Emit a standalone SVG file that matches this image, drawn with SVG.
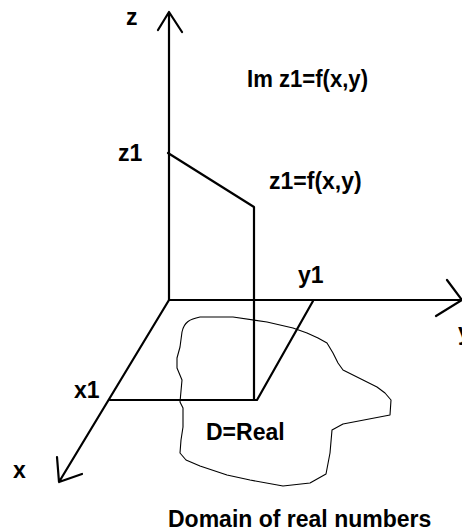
<svg xmlns="http://www.w3.org/2000/svg" width="462" height="531" viewBox="0 0 462 531">
<style>
.ax{stroke:#000;stroke-width:2.2;fill:none;stroke-linecap:round;stroke-linejoin:round}
.th{stroke:#000;stroke-width:1.1;fill:none;stroke-linejoin:round}
.lb{font-family:"Liberation Sans",Arial,sans-serif;font-weight:bold;font-size:23px;fill:#000}
</style>
<rect width="462" height="531" fill="#fff"/>
<g id="connectors">
<g id="z-axis"><path class="ax" d="M169,300 L169,12 M158,30 L169,12 L182,32"/></g>
<g id="y-axis"><path class="ax" d="M169,300 L462,300 M447,280 L462,300 L436,316"/></g>
<g id="x-axis"><path class="ax" d="M169,300 L59,482 M57,457 L59,482 L82,474"/></g>
<g id="function"><path class="ax" d="M168,153 L254,207 L254,400"/></g>
<g id="projection"><path class="ax" d="M110,400 L257,400 L313,301"/></g>
</g>
<g id="domain"><path class="th" d="M200,317 C190,319 184,322 182,332 L180,347 L177,358 L177,368 L182,380 L180,402 L183,408 L183,427 L181,440 L180,453 L186,460 L200,466 L227,475 L250,480 L283,486 L310,483 L326,474 L330,453 L332,430 L343,424 L390,415 L391,400 L385,393 L377,387 L363,380 L343,370 L338,363 L333,353 L327,343 L318,338 L307,333 L293,328 L267,322 L233,317 Z"/></g>
<g id="labels">
<text class="lb" x="126" y="25">z</text>
<text class="lb" x="247" y="87" textLength="121" lengthAdjust="spacingAndGlyphs">Im z1=f(x,y)</text>
<text class="lb" x="118" y="161">z1</text>
<text class="lb" x="269" y="189">z1=f(x,y)</text>
<text class="lb" x="298" y="283">y1</text>
<text class="lb" x="458" y="340">y</text>
<text class="lb" x="74" y="398">x1</text>
<text class="lb" x="13" y="478">x</text>
<text class="lb" x="206" y="440">D=Real</text>
<text class="lb" x="168" y="527">Domain of real numbers</text>
</g>
</svg>
